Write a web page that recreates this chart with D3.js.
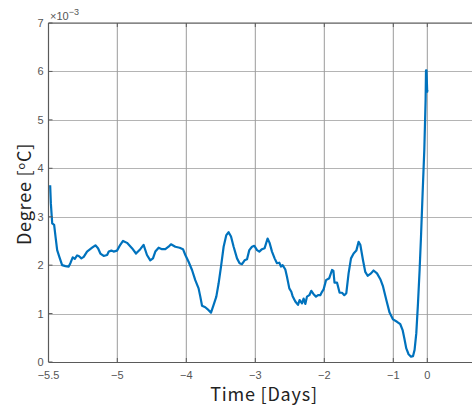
<!DOCTYPE html>
<html><head><meta charset="utf-8">
<script src="https://cdn.jsdelivr.net/npm/d3@7"></script>
<style>html,body{margin:0;padding:0;background:#fff;overflow:hidden}</style>
</head><body>
<svg id="c" width="472" height="408"></svg>
<script>
// Time in days (tick-label units), degree values in °C
const timeDays = [-5.488,-5.483,-5.473,-5.459,-5.449,-5.437,-5.420,-5.401,-5.377,-5.353,-5.341,-5.324,-5.309,-5.292,-5.280,-5.261,-5.244,-5.220,-5.183,-5.159,-5.140,-5.123,-5.099,-5.074,-5.062,-5.043,-5.027,-5.002,
-4.957,-4.917,-4.859,-4.787,-4.729,-4.667,-4.619,-4.570,-4.522,-4.483,-4.449,-4.401,-4.352,-4.304,-4.257,-4.222,-4.159,-4.097,-4.048,-4.014,
-3.967,-3.917,-3.870,-3.822,-3.797,-3.772,-3.725,-3.677,-3.642,-3.604,-3.565,-3.532,-3.497,-3.459,-3.420,-3.387,-3.352,-3.314,-3.265,-3.228,-3.193,-3.155,-3.120,-3.087,-3.048,-3.014,
-2.975,-2.942,-2.903,-2.865,-2.822,-2.793,-2.758,-2.720,-2.686,-2.652,-2.628,-2.604,-2.565,-2.541,-2.507,-2.478,-2.459,-2.420,-2.381,-2.358,-2.323,-2.300,-2.275,-2.251,-2.217,-2.188,-2.155,-2.120,-2.091,-2.058,-2.033,-2.010,
-1.975,-1.928,-1.888,-1.868,-1.852,-1.816,-1.778,-1.743,-1.710,-1.681,-1.648,-1.613,-1.575,-1.536,-1.503,-1.478,-1.439,-1.406,-1.372,-1.323,-1.286,-1.236,-1.188,-1.149,-1.101,-1.054,-1.004,
-0.891,-0.794,-0.726,-0.676,-0.618,-0.550,-0.479,-0.421,-0.374,-0.324,-0.274,-0.226,-0.185,-0.138,-0.088,-0.050,-0.038,-0.024,-0.003,0.004];
const degree = [3.65,3.28,2.86,2.83,2.59,2.31,2.16,2.00,1.98,1.97,2.04,2.16,2.13,2.20,2.19,2.14,2.17,2.28,2.36,2.41,2.35,2.24,2.19,2.21,2.28,2.30,2.28,2.30,
2.42,2.50,2.46,2.35,2.24,2.33,2.42,2.21,2.10,2.14,2.28,2.36,2.33,2.33,2.38,2.43,2.38,2.36,2.33,2.21,
2.07,1.90,1.69,1.52,1.35,1.16,1.13,1.07,1.02,1.18,1.35,1.62,1.97,2.38,2.62,2.68,2.59,2.38,2.14,2.04,2.02,2.10,2.12,2.31,2.38,2.40,
2.31,2.28,2.33,2.35,2.55,2.46,2.28,2.14,2.04,2.05,1.97,2.00,1.91,1.76,1.52,1.45,1.36,1.25,1.18,1.28,1.21,1.31,1.20,1.35,1.38,1.47,1.40,1.35,1.38,1.38,1.45,1.50,
1.69,1.73,1.90,1.88,1.64,1.64,1.43,1.43,1.38,1.42,1.83,2.14,2.24,2.30,2.48,2.42,2.10,1.86,1.78,1.83,1.89,1.83,1.71,1.56,1.28,1.02,0.88,
0.83,0.78,0.66,0.49,0.28,0.16,0.11,0.12,0.25,0.59,1.21,1.90,2.59,3.48,4.38,5.41,6.02,6.02,5.58,5.62].map(v => v * 1e-3);
const xTickValues = [-5.5,-5,-4,-3,-2,-1,0];
const xTickLabels = ["\u22125.5","\u22125","\u22124","\u22123","\u22122","\u22121","0"];
const yTickValues = [0,1e-3,2e-3,3e-3,4e-3,5e-3,6e-3,7e-3];
const yTickLabels = ["0","1","2","3","4","5","6","7"];

const svg = d3.select("#c");
const x = d3.scaleLinear().domain([-5.5,-5,-1,0]).range([48.5,117.3,393.3,427.3]);
const y = d3.scaleLinear().domain([0,7e-3]).range([362,23]);
const xRight = 500;

// grid
const g = svg.append("g");
g.selectAll(".gy").data(yTickValues.slice(1)).join("line")
  .attr("x1", x(-5.5)).attr("x2", xRight).attr("y1", d => Math.round(y(d))+0.5).attr("y2", d => Math.round(y(d))+0.5)
  .attr("stroke", "#b4b4b4").attr("stroke-width", 1);
g.selectAll(".gx").data(xTickValues.slice(1)).join("line")
  .attr("x1", d => x(d)).attr("x2", d => x(d)).attr("y1", y(7e-3)).attr("y2", y(0))
  .attr("stroke", "#9a9a9a").attr("stroke-width", 1);

// data line
const line = d3.line().x((d,i) => x(timeDays[i])).y(d => y(d)).curve(d3.curveLinear);
svg.append("path").datum(degree).attr("d", line)
  .attr("fill","none").attr("stroke","#0072BD").attr("stroke-width",2.2).attr("stroke-linejoin","round");

// axes box
const axC = "#5a5a5a";
svg.append("line").attr("x1", x(-5.5)).attr("x2", xRight).attr("y1", y(0)+0.5).attr("y2", y(0)+0.5).attr("stroke", axC).attr("stroke-width",1.2);
svg.append("line").attr("x1", x(-5.5)).attr("x2", xRight).attr("y1", y(7e-3)).attr("y2", y(7e-3)).attr("stroke", axC).attr("stroke-width",1.2);
svg.append("line").attr("x1", x(-5.5)).attr("x2", x(-5.5)).attr("y1", y(0)).attr("y2", y(7e-3)).attr("stroke", axC).attr("stroke-width",1.2);

// x ticks (inward, bottom and top)
svg.selectAll(".xt").data(xTickValues).join("line")
  .attr("x1", d => x(d)).attr("x2", d => x(d)).attr("y1", y(0)).attr("y2", y(0)-4).attr("stroke", axC);
svg.selectAll(".xtt").data(xTickValues).join("line")
  .attr("x1", d => x(d)).attr("x2", d => x(d)).attr("y1", y(7e-3)).attr("y2", y(7e-3)+4).attr("stroke", axC);
svg.selectAll(".yt").data(yTickValues).join("line")
  .attr("x1", x(-5.5)).attr("x2", x(-5.5)+4).attr("y1", d => y(d)).attr("y2", d => y(d)).attr("stroke", axC);

const tf = "Liberation Sans, Arial, sans-serif";
svg.selectAll(".xl").data(xTickValues).join("text")
  .attr("x", d => x(d)).attr("y", y(0)+17).attr("text-anchor","middle")
  .attr("font-family", tf).attr("font-size", 11).attr("fill", "#555")
  .text((d,i) => xTickLabels[i]);
svg.selectAll(".yl").data(yTickValues).join("text")
  .attr("x", x(-5.5)-5).attr("y", d => y(d)+4).attr("text-anchor","end")
  .attr("font-family", tf).attr("font-size", 11).attr("fill", "#555")
  .text((d,i) => yTickLabels[i]);

// exponent
const ex = svg.append("text").attr("x", 50).attr("y", 20).attr("font-family", tf).attr("font-size", 11).attr("fill","#555");
ex.append("tspan").text("\u00d710");
ex.append("tspan").attr("dy", -5).attr("font-size", 9).text("\u22123");

const lf = "Noto Sans CJK JP, Noto Sans, sans-serif";
svg.append("text").attr("x", 264).attr("y", 401).attr("text-anchor","middle")
  .attr("font-family", lf).attr("font-size", 18).attr("letter-spacing", 0.8).attr("fill","#222").text("Time [Days]");
const yl = svg.append("text").attr("transform","translate(31,194) rotate(-90)").attr("text-anchor","middle")
  .attr("font-family", lf).attr("font-size", 18).attr("letter-spacing", 0.8).attr("fill","#222");
yl.append("tspan").text("Degree [");
yl.append("tspan").attr("dy",-6).attr("font-size",11).text("o");
yl.append("tspan").attr("dy",6).text("C]");
</script>
</body></html>
